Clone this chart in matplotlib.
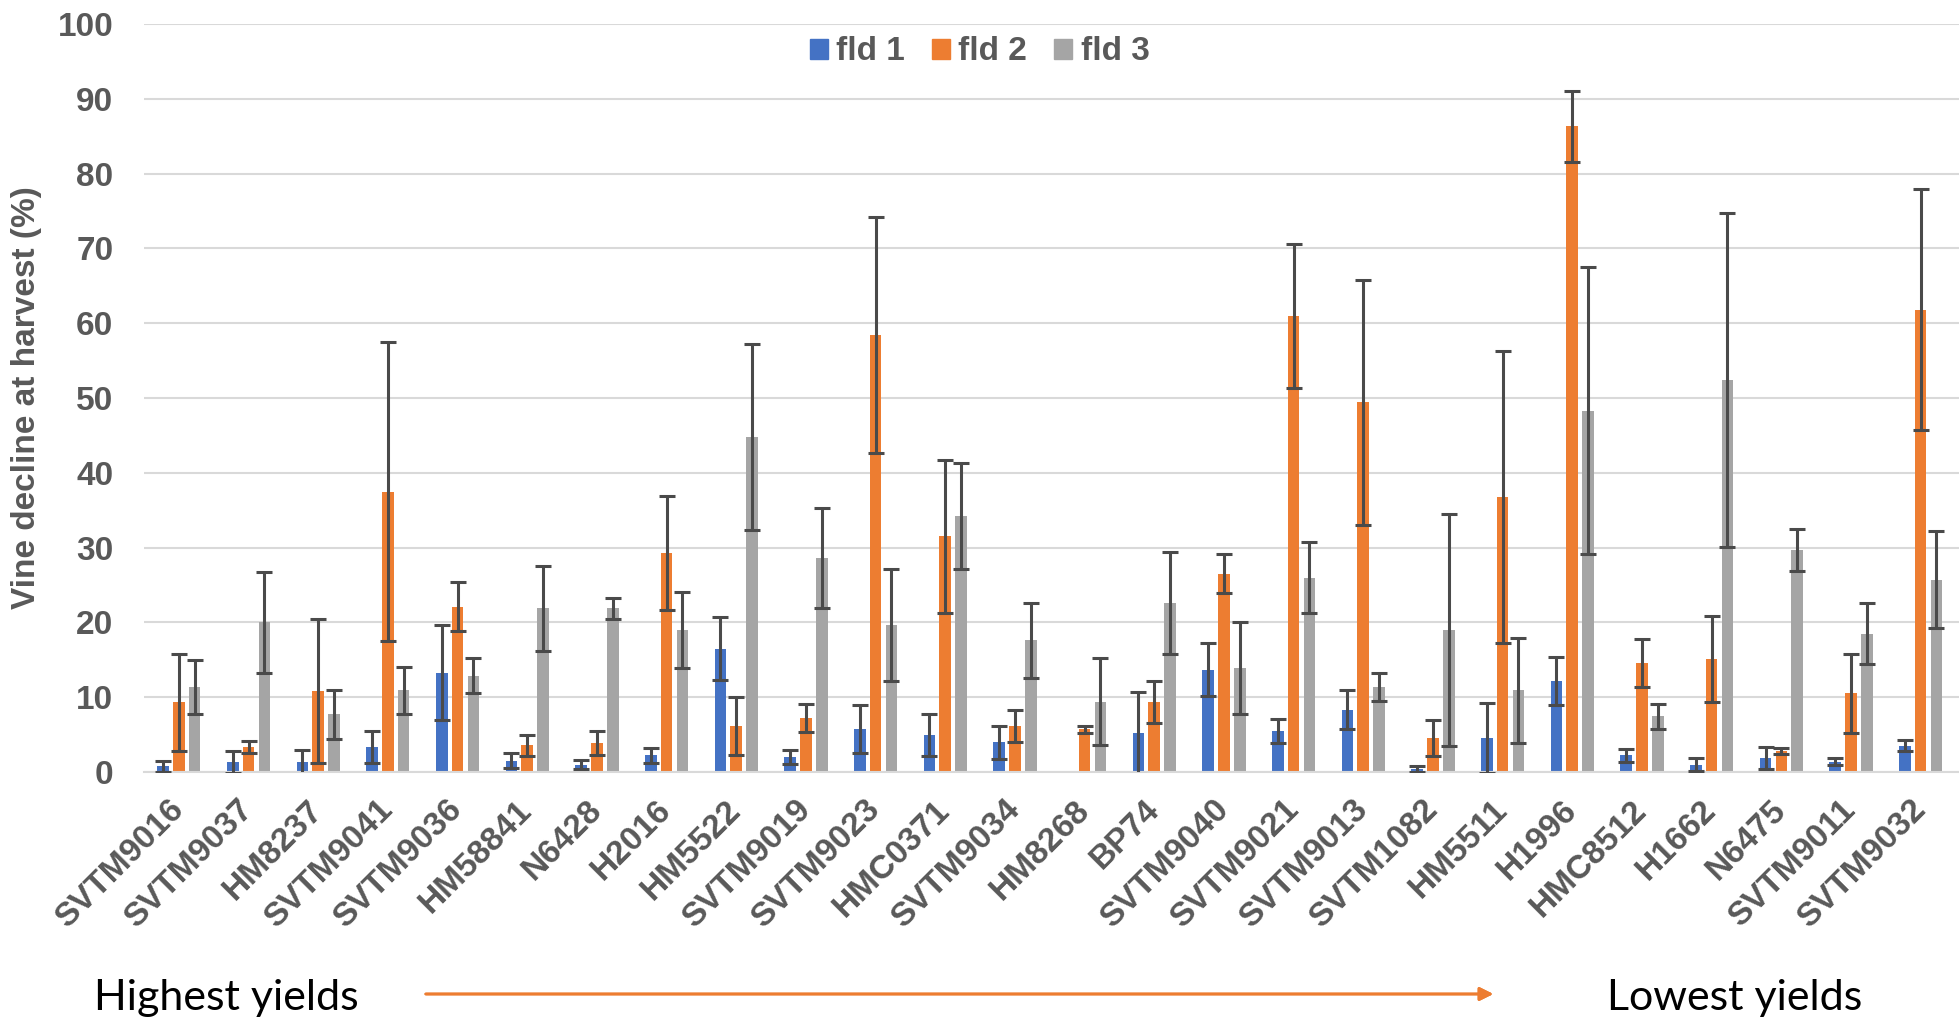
import numpy as np
import matplotlib.pyplot as plt

# cultivars, ordered from highest to lowest yield
cultivars = ['SVTM9016', 'SVTM9037', 'HM8237', 'SVTM9041', 'SVTM9036', 'HM58841',
             'N6428', 'H2016', 'HM5522', 'SVTM9019', 'SVTM9023', 'HMC0371',
             'SVTM9034', 'HM8268', 'BP74', 'SVTM9040', 'SVTM9021', 'SVTM9013',
             'SVTM1082', 'HM5511', 'H1996', 'HMC8512', 'H1662', 'N6475',
             'SVTM9011', 'SVTM9032']

# vine decline at harvest (%) and error bar half-widths (None = no data)
fld1 = [0.75, 1.3, 1.3, 3.35, 13.3, 1.5, 1.0, 2.25, 16.5, 2.0, 5.7, 5.0, 4.0,
        None, 5.2, 13.7, 5.5, 8.3, 0.35, 4.5, 12.2, 2.25, 1.0, 1.85, 1.4, 3.5]
fld1_err = [0.7, 1.5, 1.7, 2.1, 6.4, 1.0, 0.65, 1.0, 4.2, 0.9, 3.2, 2.8, 2.2,
            None, 5.5, 3.5, 1.6, 2.6, 0.4, 4.7, 3.2, 0.85, 0.9, 1.5, 0.45, 0.75]
fld2 = [9.3, 3.35, 10.8, 37.5, 22.1, 3.6, 3.9, 29.3, 6.15, 7.2, 58.4, 31.5, 6.15,
        5.7, 9.3, 26.5, 61.0, 49.4, 4.6, 36.8, 86.3, 14.6, 15.1, 2.8, 10.5, 61.8]
fld2_err = [6.5, 0.75, 9.6, 20.0, 3.3, 1.4, 1.6, 7.6, 3.9, 1.9, 15.8, 10.2, 2.2,
            0.45, 2.8, 2.6, 9.6, 16.4, 2.4, 19.5, 4.8, 3.2, 5.8, 0.35, 5.3, 16.1]
fld3 = [11.4, 20.0, 7.7, 10.9, 12.9, 21.9, 21.9, 19.0, 44.8, 28.6, 19.6, 34.2, 17.6,
        9.4, 22.6, 13.9, 26.0, 11.4, 19.0, 10.9, 48.3, 7.45, 52.4, 29.7, 18.5, 25.7]
fld3_err = [3.6, 6.8, 3.3, 3.2, 2.3, 5.7, 1.4, 5.1, 12.4, 6.7, 7.5, 7.1, 5.0,
            5.8, 6.8, 6.1, 4.8, 1.9, 15.5, 7.0, 19.2, 1.7, 22.3, 2.8, 4.1, 6.5]

series = [('fld 1', fld1, fld1_err, '#4472C4'),
          ('fld 2', fld2, fld2_err, '#ED7D31'),
          ('fld 3', fld3, fld3_err, '#A5A5A5')]

txt = '#595959'
plt.rcParams['font.family'] = ['Liberation Sans', 'DejaVu Sans']

fig = plt.figure(figsize=(19.59, 10.17), dpi=100)
ax = fig.add_axes([144 / 1959, 245 / 1017, 1 - 144 / 1959, 748 / 1017])

x = np.arange(len(cultivars))
w = 0.167
step = 0.227
for i, (name, vals, errs, col) in enumerate(series):
    vals = np.array(vals, dtype=float)
    errs = np.array(errs, dtype=float)
    ax.bar(x + (i - 1) * step, vals, width=w, color=col, label=name, zorder=2,
           yerr=errs, error_kw=dict(ecolor='#4a4a4a', elinewidth=2.2, capsize=6,
                                    capthick=2.2, zorder=3))

ax.set_xlim(-0.5, 25.55)
ax.set_ylim(0, 100)
ax.set_yticks(np.arange(0, 101, 10))
ax.grid(axis='y', color='#d9d9d9', linewidth=1.5, zorder=0)
ax.set_axisbelow(True)
for s in ['left', 'right', 'top']:
    ax.spines[s].set_visible(False)
ax.spines['bottom'].set_color('#d9d9d9')
ax.spines['bottom'].set_linewidth(1.5)
ax.tick_params(length=0)
ax.tick_params(axis='y', pad=22, labelsize=24, labelcolor=txt)
ax.set_yticklabels([str(v) for v in range(0, 101, 10)], fontweight='bold')
ax.set_xticks(x)
ax.set_xticklabels(cultivars, rotation=45, ha='right', va='center',
                   rotation_mode='anchor', fontsize=24, fontweight='bold', color=txt)
ax.tick_params(axis='x', pad=24)
ax.set_ylabel('Vine decline at harvest (%)', fontsize=24, fontweight='bold',
              color=txt)
ax.yaxis.set_label_coords(-0.056, 0.5)

# legend without error bars
handles = [plt.Rectangle((0, 0), 1, 1, color=c) for _, _, _, c in series]
fig.legend(handles, [s[0] for s in series], loc='center', ncol=3,
           bbox_to_anchor=(0.5, 1 - 52 / 1017), frameon=False,
           prop=dict(size=24, weight='bold'), labelcolor=txt,
           handlelength=0.55, handleheight=0.55, handletextpad=0.25,
           columnspacing=0.8)

# yield direction note
fig.text(94 / 1959, 7 / 1017, 'Highest yields', fontsize=31, family='Lato',
         va='baseline', ha='left')
fig.text(1862 / 1959, 7 / 1017, 'Lowest yields', fontsize=31, family='Lato',
         va='baseline', ha='right')
fig.add_artist(plt.annotate('', xy=(1496 / 1959, 1 - 994 / 1017),
                            xytext=(423 / 1959, 1 - 994 / 1017),
                            xycoords='figure fraction',
                            arrowprops=dict(arrowstyle='-|>', color='#ED7D31',
                                            lw=2, mutation_scale=20)))

fig.savefig('out.png', dpi=100)
